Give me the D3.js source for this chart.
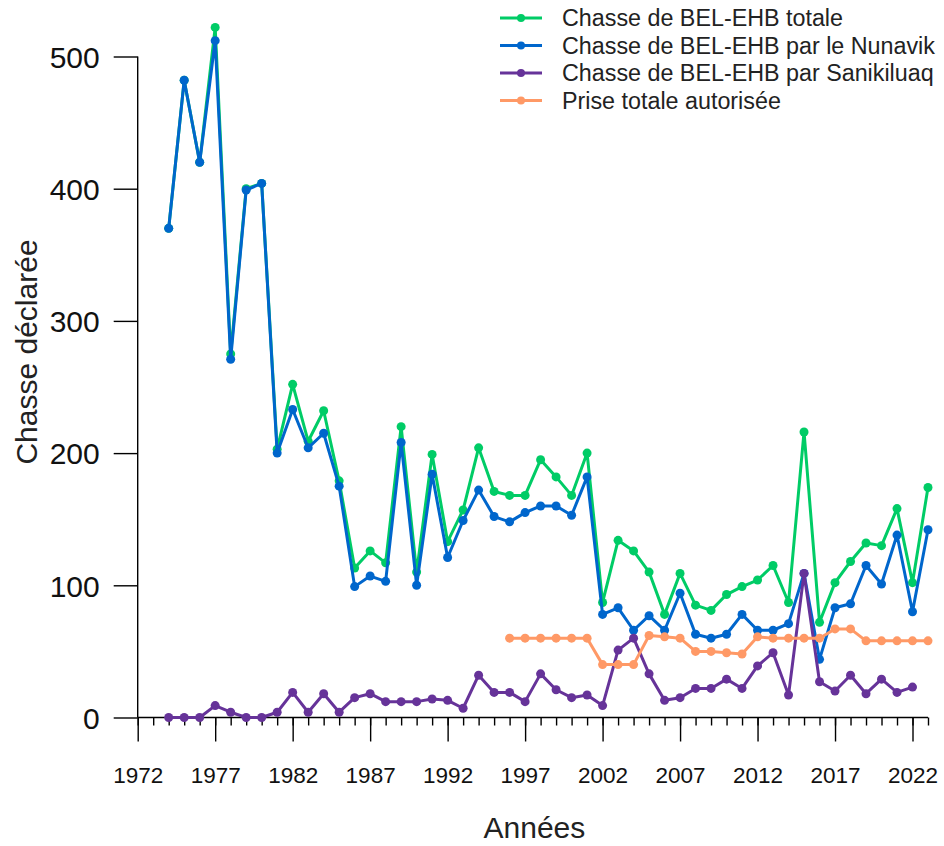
<!DOCTYPE html>
<html lang="fr">
<head>
<meta charset="utf-8">
<script src="https://cdn.jsdelivr.net/npm/d3@7"></script>
<style>
  html, body { margin: 0; padding: 0; background: #fff; }
  svg { display: block; font-family: "Liberation Sans", Arial, sans-serif; }
</style>
</head>
<body>
<svg id="chart" width="944" height="846"></svg>
<script>
// Belugas — déclarations de chasse annuelles
const years = d3.range(1974, 2024);

const totalHunt = [370, 482, 420, 522, 275, 400, 404, 203, 252, 209,
  232, 179, 113, 126, 117, 220, 110, 199, 133, 157,
  204, 171, 168, 168, 195, 182, 168, 200, 87, 134,
  126, 110, 78, 109, 85, 81, 93, 99, 104, 115,
  87, 216, 72, 102, 118, 132, 130, 158, 102, 174];

const nunavikHunt = [370, 482, 420, 512, 271, 399, 404, 200, 233, 204,
  215, 175, 99, 107, 103, 208, 100, 184, 121, 149,
  172, 152, 148, 155, 160, 160, 153, 182, 78, 83,
  66, 77, 66, 94, 63, 60, 63, 78, 66, 66,
  71, 109, 44, 83, 86, 115, 101, 138, 80, 142];

const sanikiluaqYears = d3.range(1974, 2023);
const sanikiluaqHunt = [0, 0, 0, 9, 4, 0, 0, 4, 19, 4,
  18, 4, 15, 18, 12, 12, 12, 14, 13, 7,
  32, 19, 19, 12, 33, 21, 15, 17, 9, 51,
  60, 33, 13, 15, 22, 22, 29, 22, 39, 49,
  17, 109, 27, 20, 32, 18, 29, 19, 23];

const tacYears = d3.range(1996, 2024);
const tacValues = [60, 60, 60, 60, 60, 60, 40, 40, 40, 62,
  61, 60, 50, 50, 49, 48, 61, 60, 60, 60,
  60, 67, 67, 58, 58, 58, 58, 58];

const seriesNames = [
  "Chasse de BEL-EHB totale",
  "Chasse de BEL-EHB par le Nunavik",
  "Chasse de BEL-EHB par Sanikiluaq",
  "Prise totale autorisée"
];
const seriesColors = ["#00cc66", "#0066cc", "#663399", "#ff9966"];

const xMajorTicks = d3.range(1972, 2023, 5);
const xMinorTicks = d3.range(1972, 2024);
const yTicks = [0, 100, 200, 300, 400, 500];

const svg = d3.select("#chart");

const x = d3.scaleLinear().domain([1972, 2023]).range([137.7, 928]);
const y = d3.scaleLinear().domain([0, 500]).range([717.5, 56.5]);

// y axis
const yAxis = d3.axisLeft(y).tickValues(yTicks).tickSize(24).tickPadding(14).tickFormat(d3.format("d"));
const gy = svg.append("g").attr("transform", `translate(${x(1972)},0)`).call(yAxis);
gy.select(".domain").attr("d", `M0,${y(0)}V${y(500)}`).attr("stroke-width", 1.4);
gy.selectAll(".tick line").attr("stroke-width", 1.4);
gy.selectAll(".tick text").attr("font-size", 30).attr("fill", "#111")
  .attr("dy", "0.36em");

// x axis: minor yearly ticks
const xAxisMinor = d3.axisBottom(x).tickValues(xMinorTicks).tickSize(8).tickFormat("");
const gxm = svg.append("g").attr("transform", `translate(0,${y(0)})`).call(xAxisMinor);
gxm.select(".domain").attr("d", `M${x(1972)},0H${x(2023)}`).attr("stroke-width", 1.4);
gxm.selectAll(".tick line").attr("stroke-width", 1.4);

// x axis: labelled ticks every five years
const xAxisMajor = d3.axisBottom(x).tickValues(xMajorTicks).tickSize(24).tickPadding(26).tickFormat(d3.format("d"));
const gx = svg.append("g").attr("transform", `translate(0,${y(0)})`).call(xAxisMajor);
gx.select(".domain").remove();
gx.selectAll(".tick line").attr("stroke-width", 1.4);
gx.selectAll(".tick text").attr("font-size", 22.5).attr("fill", "#111");

// Axis titles
svg.append("text")
  .attr("x", x(1997.6)).attr("y", 838)
  .attr("text-anchor", "middle").attr("font-size", 30).attr("fill", "#222")
  .text("Années");

svg.append("text")
  .attr("transform", "translate(37,352) rotate(-90)")
  .attr("text-anchor", "middle").attr("font-size", 30).attr("fill", "#222")
  .text("Chasse déclarée");

// Series
const series = [
  { xs: years, ys: totalHunt },
  { xs: years, ys: nunavikHunt },
  { xs: sanikiluaqYears, ys: sanikiluaqHunt },
  { xs: tacYears, ys: tacValues }
];

const line = d3.line().x(d => x(d[0])).y(d => y(d[1]));

series.forEach((s, i) => {
  const pts = s.xs.map((yr, j) => [yr, s.ys[j]]);
  const g = svg.append("g");
  g.append("path").datum(pts)
    .attr("d", line)
    .attr("fill", "none")
    .attr("stroke", seriesColors[i])
    .attr("stroke-width", 3)
    .attr("stroke-linejoin", "round");
  g.selectAll("circle").data(pts).join("circle")
    .attr("cx", d => x(d[0])).attr("cy", d => y(d[1]))
    .attr("r", 4.5)
    .attr("fill", seriesColors[i]);
});

// Legend
const legend = svg.append("g");
seriesNames.forEach((name, i) => {
  const cy = 18 + i * 27.5;
  legend.append("line")
    .attr("x1", 500).attr("x2", 542).attr("y1", cy).attr("y2", cy)
    .attr("stroke", seriesColors[i]).attr("stroke-width", 3);
  legend.append("circle").attr("cx", 521).attr("cy", cy).attr("r", 4)
    .attr("fill", seriesColors[i]);
  legend.append("text")
    .attr("x", 562).attr("y", cy + 8)
    .attr("font-size", 23.3).attr("fill", "#222")
    .text(name);
});
</script>
</body>
</html>
